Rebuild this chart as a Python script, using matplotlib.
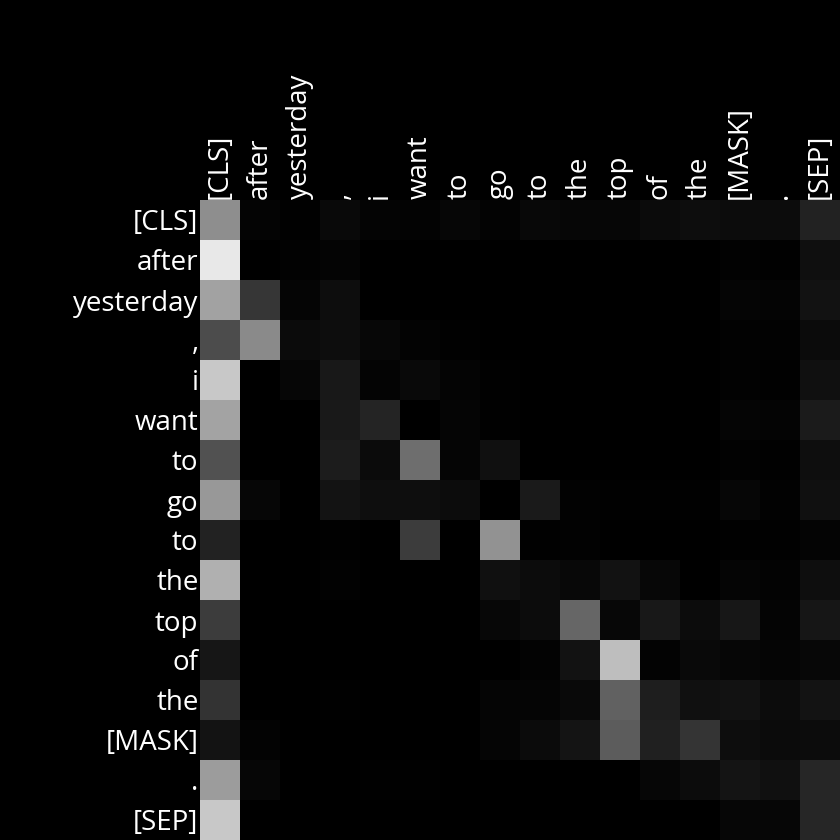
import numpy as np
import matplotlib
matplotlib.use("Agg")
import matplotlib.pyplot as plt

tokens = ["[CLS]", "after", "yesterday", ",", "i", "want", "to", "go",
          "to", "the", "top", "of", "the", "[MASK]", ".", "[SEP]"]

# attention weights, one row per query token
row_cls = [0.557, 0.016, 0.004, 0.039, 0.016, 0.012, 0.024, 0.012,
           0.035, 0.027, 0.024, 0.043, 0.051, 0.047, 0.047, 0.133]
row_after = [0.910, 0.000, 0.008, 0.016, 0.000, 0.000, 0.000, 0.000,
             0.000, 0.000, 0.000, 0.000, 0.000, 0.008, 0.004, 0.059]
row_yesterday = [0.635, 0.212, 0.020, 0.051, 0.000, 0.000, 0.000, 0.000,
                 0.000, 0.000, 0.000, 0.000, 0.000, 0.020, 0.016, 0.071]
row_comma = [0.298, 0.541, 0.043, 0.051, 0.031, 0.012, 0.004, 0.000,
             0.000, 0.000, 0.000, 0.000, 0.000, 0.008, 0.008, 0.043]
row_i = [0.784, 0.000, 0.024, 0.094, 0.016, 0.039, 0.016, 0.004,
         0.000, 0.000, 0.000, 0.000, 0.000, 0.008, 0.004, 0.063]
row_want = [0.643, 0.000, 0.000, 0.098, 0.145, 0.000, 0.020, 0.004,
            0.000, 0.000, 0.000, 0.000, 0.000, 0.020, 0.016, 0.106]
row_to1 = [0.322, 0.000, 0.000, 0.110, 0.043, 0.431, 0.020, 0.063,
           0.000, 0.000, 0.000, 0.000, 0.000, 0.008, 0.004, 0.055]
row_go = [0.596, 0.024, 0.000, 0.078, 0.055, 0.055, 0.047, 0.000,
          0.102, 0.008, 0.004, 0.004, 0.004, 0.024, 0.008, 0.063]
row_to2 = [0.133, 0.000, 0.000, 0.004, 0.000, 0.235, 0.000, 0.573,
           0.004, 0.008, 0.000, 0.000, 0.000, 0.004, 0.004, 0.016]
row_the1 = [0.690, 0.000, 0.000, 0.008, 0.000, 0.000, 0.000, 0.063,
            0.047, 0.035, 0.071, 0.031, 0.000, 0.020, 0.012, 0.055]
row_top = [0.235, 0.000, 0.000, 0.000, 0.000, 0.000, 0.000, 0.031,
           0.047, 0.400, 0.031, 0.094, 0.047, 0.090, 0.016, 0.086]
row_of = [0.086, 0.000, 0.000, 0.000, 0.000, 0.000, 0.000, 0.000,
          0.012, 0.071, 0.745, 0.012, 0.039, 0.024, 0.020, 0.031]
row_the2 = [0.200, 0.000, 0.000, 0.004, 0.000, 0.000, 0.000, 0.020,
            0.020, 0.039, 0.384, 0.118, 0.063, 0.071, 0.047, 0.078]
row_mask = [0.078, 0.012, 0.000, 0.000, 0.000, 0.000, 0.000, 0.020,
            0.043, 0.082, 0.361, 0.125, 0.208, 0.051, 0.043, 0.047]
row_dot = [0.612, 0.027, 0.000, 0.000, 0.004, 0.004, 0.000, 0.000,
           0.000, 0.000, 0.000, 0.027, 0.047, 0.082, 0.063, 0.149]
row_sep = [0.784, 0.000, 0.000, 0.000, 0.000, 0.000, 0.000, 0.000,
           0.000, 0.000, 0.000, 0.000, 0.000, 0.024, 0.027, 0.149]

attn = np.array([row_cls, row_after, row_yesterday, row_comma, row_i, row_want,
                 row_to1, row_go, row_to2, row_the1, row_top, row_of,
                 row_the2, row_mask, row_dot, row_sep])

plt.rcParams['font.family'] = ['Open Sans', 'DejaVu Sans']

fig = plt.figure(figsize=(8.4, 8.4), dpi=100, facecolor="black")
ax = fig.add_axes([200 / 840, 0, 640 / 840, 640 / 840])
ax.imshow(attn, cmap="gray", vmin=0, vmax=1, aspect="auto",
          interpolation="nearest")

ax.set_xticks(range(len(tokens)))
ax.set_xticklabels(tokens, rotation=90, fontsize=20, color="white")
ax.set_yticks(range(len(tokens)))
ax.set_yticklabels(tokens, fontsize=20, color="white")
ax.xaxis.tick_top()
ax.tick_params(length=0, pad=1)
for s in ax.spines.values():
    s.set_visible(False)

fig.savefig("out.png", dpi=100, facecolor="black")
